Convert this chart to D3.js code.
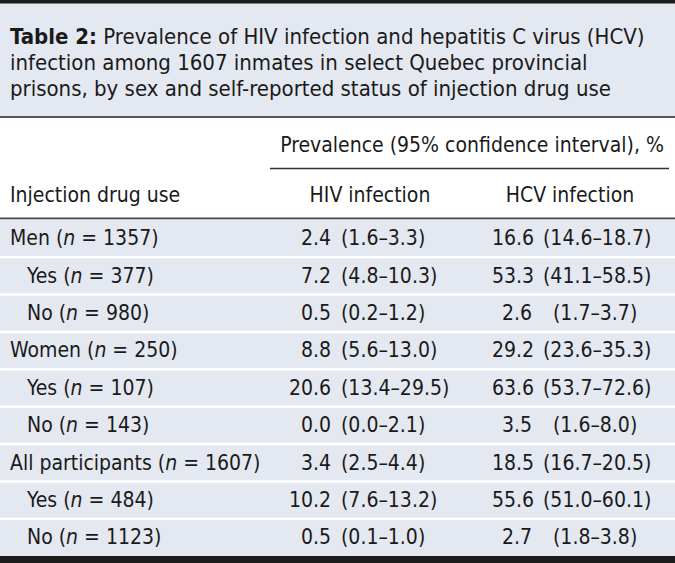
<!DOCTYPE html>
<html><head><meta charset="utf-8">
<script src="https://cdn.jsdelivr.net/npm/d3@7"></script>
<style>
html,body{margin:0;padding:0;background:#fff;}
svg{display:block;}
text{font-family:"DejaVu Sans Condensed","DejaVu Sans",sans-serif;fill:#1a1a1a;}
</style></head>
<body>
<script>
// ---- data ----
const titleBold = "Table 2:";
const titleLines = [
  " Prevalence of HIV infection and hepatitis C virus (HCV)",
  "infection among 1607 inmates in select Quebec provincial",
  "prisons, by sex and self-reported status of injection drug use"
];
const spannerLabel = "Prevalence (95% confidence interval), %";
const stubHeader = "Injection drug use";
const columnHeaders = ["HIV infection", "HCV infection"];
const groupLabels = ["Men", "Yes", "No", "Women", "Yes", "No", "All participants", "Yes", "No"];
const groupN = [1357, 377, 980, 250, 107, 143, 1607, 484, 1123];
const groupLevel = [0, 1, 1, 0, 1, 1, 0, 1, 1];
const hivPrev = [2.4, 7.2, 0.5, 8.8, 20.6, 0.0, 3.4, 10.2, 0.5];
const hivLow  = [1.6, 4.8, 0.2, 5.6, 13.4, 0.0, 2.5, 7.6, 0.1];
const hivHigh = [3.3, 10.3, 1.2, 13.0, 29.5, 2.1, 4.4, 13.2, 1.0];
const hcvPrev = [16.6, 53.3, 2.6, 29.2, 63.6, 3.5, 18.5, 55.6, 2.7];
const hcvLow  = [14.6, 41.1, 1.7, 23.6, 53.7, 1.6, 16.7, 51.0, 1.8];
const hcvHigh = [18.7, 58.5, 3.7, 35.3, 72.6, 8.0, 20.5, 60.1, 3.8];

const W = 675, H = 563;
const fmt = d3.format(".1f");
const bg = "#e4e8f1";

const svg = d3.select("body").append("svg").attr("width", W).attr("height", H);

svg.append("rect").attr("x",0).attr("y",0).attr("width",W).attr("height",H).attr("fill","#fff");
svg.append("rect").attr("x",0).attr("y",3).attr("width",W).attr("height",114).attr("fill",bg);
svg.append("rect").attr("x",0).attr("y",0).attr("width",W).attr("height",3.5).attr("fill","#1c1c1c");
svg.append("rect").attr("x",0).attr("y",116).attr("width",W).attr("height",2).attr("fill","#555");

const titleFs = 22;
const tl = svg.append("g");
titleLines.forEach((line, i) => {
  const t = tl.append("text").attr("x", 10).attr("y", 44 + i*26).style("font-size", titleFs+"px");
  if (i === 0) t.append("tspan").attr("font-weight","bold").text(titleBold);
  t.append("tspan").text(line);
});

const fs = 21;
svg.append("text").attr("x", 472).attr("y", 152).attr("text-anchor","middle").style("font-size",fs+"px").text(spannerLabel);
svg.append("line").attr("x1",270).attr("x2",669).attr("y1",168.5).attr("y2",168.5).attr("stroke","#333").attr("stroke-width",1.5);
svg.append("text").attr("x", 10).attr("y", 202).style("font-size",fs+"px").text(stubHeader);
const colCenters = [370, 570];
columnHeaders.forEach((h,i)=>{
  svg.append("text").attr("x", colCenters[i]).attr("y", 202).attr("text-anchor","middle").style("font-size",fs+"px").text(h);
});
svg.append("rect").attr("x",0).attr("y",217.5).attr("width",W).attr("height",2).attr("fill","#444");

const bottom = 556;
const rows = d3.range(groupLabels.length);
const y = d3.scaleBand().domain(rows).range([219.5, bottom]).paddingInner(0);
const body = svg.append("g");
rows.forEach(i => {
  body.append("rect").attr("x",0).attr("y", y(i)).attr("width", W).attr("height", y.bandwidth()).attr("fill", bg);
  if (i > 0) body.append("rect").attr("x",0).attr("y", y(i)-1).attr("width", W).attr("height", 2.5).attr("fill", "#fff");
});
svg.append("rect").attr("x",0).attr("y",bottom).attr("width",W).attr("height",H-bottom).attr("fill","#1c1c1c");

rows.forEach(i => {
  const by = y(i) + y.bandwidth()/2 + 7;
  const t = body.append("text").attr("x", groupLevel[i] ? 27 : 10).attr("y", by).style("font-size",fs+"px");
  t.append("tspan").text(groupLabels[i] + " (");
  t.append("tspan").attr("font-style","italic").text("n");
  t.append("tspan").text(" = " + groupN[i] + ")");

  body.append("text").attr("x", 331).attr("y", by).attr("text-anchor","end").style("font-size",fs+"px").text(fmt(hivPrev[i]));
  body.append("text").attr("x", 341).attr("y", by).style("font-size",fs+"px").text("(" + fmt(hivLow[i]) + "–" + fmt(hivHigh[i]) + ")");

  const two = hcvPrev[i] >= 10;
  body.append("text").attr("x", two ? 492 : 502).attr("y", by).style("font-size",fs+"px").text(fmt(hcvPrev[i]));
  body.append("text").attr("x", two ? 543 : 553).attr("y", by).style("font-size",fs+"px").text("(" + fmt(hcvLow[i]) + "–" + fmt(hcvHigh[i]) + ")");
});
</script>
</body></html>
